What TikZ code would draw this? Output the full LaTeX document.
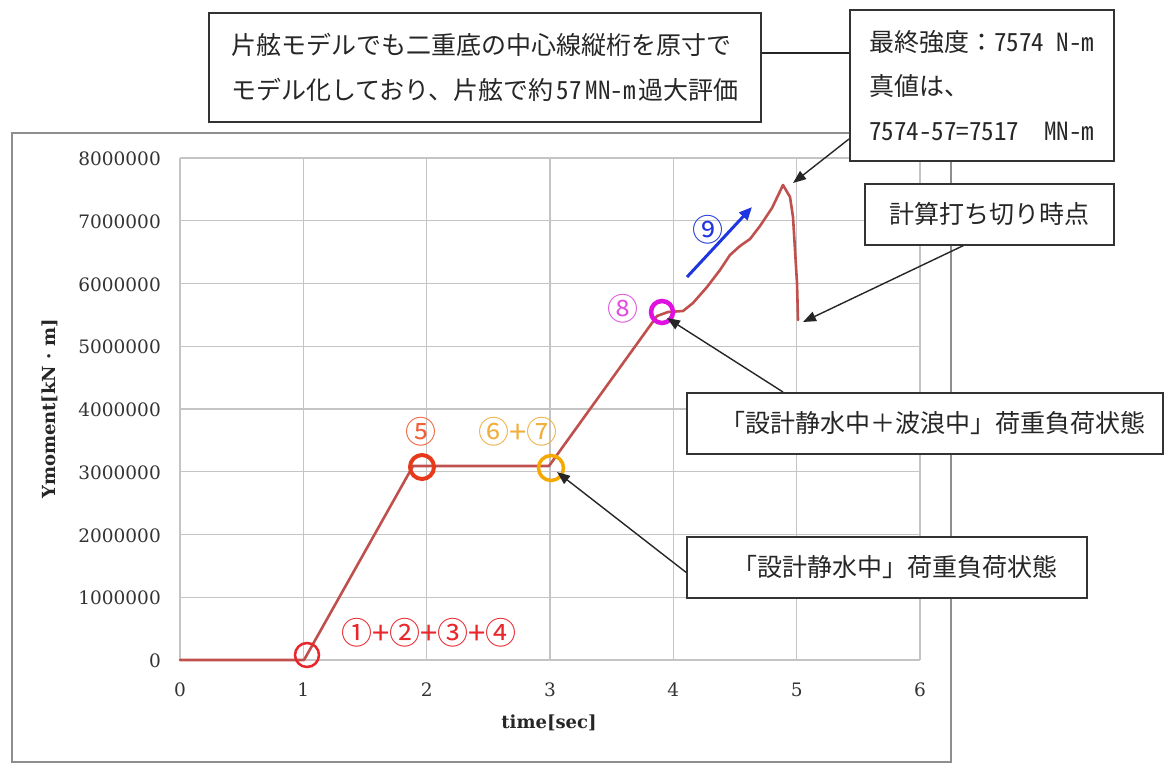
\documentclass[tikz,border=0pt]{standalone}
\usepackage{fontspec}
\setmainfont{DejaVu Serif}
\newfontfamily\jp{Noto Sans CJK JP}
\newfontfamily\jph[RawFeature=+hwid]{Noto Sans CJK JP}
\usetikzlibrary{arrows.meta,calc}
\definecolor{framegray}{HTML}{8E8E8E}
\definecolor{gridgray}{HTML}{C4C4C4}
\definecolor{boxline}{HTML}{333333}
\definecolor{curvecol}{HTML}{C0504D}
\definecolor{redA}{HTML}{E8262C}
\definecolor{red5}{HTML}{E63A1A}
\definecolor{red5t}{HTML}{F0603A}
\definecolor{orng}{HTML}{F5A800}
\definecolor{orngt}{HTML}{F0B040}
\definecolor{mag}{HTML}{E010E0}
\definecolor{magt}{HTML}{E050E0}
\definecolor{blu}{HTML}{1F35E0}
\tikzset{
  box/.style={draw=boxline, line width=1.6pt, fill=white, inner sep=0pt, text=black!85,
    font=\jp\fontsize{25}{30}\selectfont},
  gridln/.style={draw=gridgray, line width=1.3pt},
  conn/.style={draw=black!85, line width=1.4pt},
  arr/.style={conn, -{Triangle[length=13pt,width=10pt]}},
  tick/.style={font=\fontsize{18.5}{20}\selectfont, text=black!80, inner sep=0pt},
  axlabel/.style={font=\bfseries\fontsize{18}{20}\selectfont, text=black!85, inner sep=0pt},
  ring/.style={circle, draw, inner sep=0pt, minimum size=24pt},
  tag/.style={font=\jp\fontsize{31}{33}\selectfont, inner sep=0pt},
  datacurve/.style={draw=curvecol, line width=2.6pt, line join=round, line cap=round},
}
\begin{document}
\begin{tikzpicture}[x=1pt,y=-1pt]
\useasboundingbox (0,0) rectangle (1166,764);
\fill[white] (0,0) rectangle (1166,764);

% chart frame
\draw[framegray, line width=2.5pt] (12,133) rectangle (951,762);

% grid
\foreach \i in {0,...,6} \draw[gridln] (180+\i*123.33,158) -- (180+\i*123.33,660);
\foreach \j in {0,...,8} \draw[gridln] (180,660-\j*62.75) -- (920,660-\j*62.75);

% tick labels
\foreach \v [count=\j from 0] in {0,1000000,2000000,3000000,4000000,5000000,6000000,7000000,8000000}
  \node[tick, anchor=east] (yt\j) at (161,661-\j*62.75) {\v};
\foreach \i in {0,...,6}
  \node[tick] (xt\i) at (180+\i*123.33,690) {\i};
\node[axlabel] (xlab) at (549,723) {time[sec]};
\node[axlabel, rotate=90] (ylab) at (50,409) {Ymoment[kN · m]};

% data curve
\draw[datacurve] (180,660) -- (304,660) -- (413,466) -- (549,466) -- (657,316) -- (668,312)
  -- (683,311) -- (693,303) -- (707,287) -- (720,270) -- (730,255) -- (740,246) -- (750,239)
  -- (760,226) -- (772,208) -- (783,185) -- (790,197) -- (793,217) -- (795,250) -- (797,283) -- (798,320);

% rings
\node[ring, draw=redA, line width=2.5pt] (c1) at (307,655) {};
\node[ring, draw=red5, line width=4pt] (c5) at (422,467) {};
\node[ring, draw=orng, line width=3.5pt, minimum size=25pt] (c6) at (551,468) {};
\node[ring, draw=mag, line width=4.5pt, minimum size=22pt] (c8) at (662,312) {};

% tags
\node[tag, text=redA] (t1) at (429,633) {①+②+③+④};
\node[tag, text=red5t] (t5) at (421,432) {⑤};
\node[tag, text=orngt] (t6) at (518,432) {⑥+⑦};
\node[tag, text=magt] (t8) at (623,309) {⑧};
\node[tag, text=blu] (t9) at (708,230) {⑨};
\coordinate (b9s) at (687,277);
\coordinate (b9e) at (752,207);
\draw[draw=blu, line width=3pt, -{Triangle[length=13pt,width=11pt]}] (b9s) -- (b9e);

% boxes
\node[box, anchor=north west, align=left, minimum width=552pt, minimum height=109pt,
  font=\jp\fontsize{25}{45}\selectfont] (tl) at (208,12)
  {片舷モデルでも二重底の中心線縦桁を原寸で\\モデル化しており、片舷で約{\jph\hspace{3pt}57\hspace{4pt}MN-m\hspace{3pt}}過大評価};
\node[box, anchor=north west, align=left, minimum width=264pt, minimum height=151pt,
  font=\jp\fontsize{25}{44.5}\selectfont] (tr) at (849,9)
  {最終強度：{\jph 7574 N-m}\\真値は、\\{\jph 7574-57=7517\ \ MN-m}};
\node[box, anchor=north west, minimum width=249pt, minimum height=61pt] (cut) at (864,183)
  {計算打ち切り時点};
\node[box, anchor=north west, minimum width=476pt, minimum height=61pt] (bA) at (686,392)
  {\hspace{16pt}「設計静水中＋波浪中」荷重負荷状態};
\node[box, anchor=north west, minimum width=400pt, minimum height=61pt] (bB) at (686,536)
  {\hspace{16pt}「設計静水中」荷重負荷状態};

% connectors
\coordinate (lk) at (800,53);
\draw[conn] (tl.east |- lk) -- (tr.west |- lk);
\coordinate (a1y) at (849,139);
\coordinate (peak) at (793,183);
\draw[arr] (tr.west |- a1y) -- (peak);
\coordinate (endpt) at (803,322);
\draw[arr] ($(cut.south)+(-26,0)$) -- (endpt);
\coordinate (p8) at (667,318);
\draw[arr] ($(bA.north west)+(97,0)$) -- (p8);
\coordinate (p67) at (557,472);
\draw[arr] ($(bB.west)+(0,5)$) -- (p67);
\end{tikzpicture}
\end{document}
